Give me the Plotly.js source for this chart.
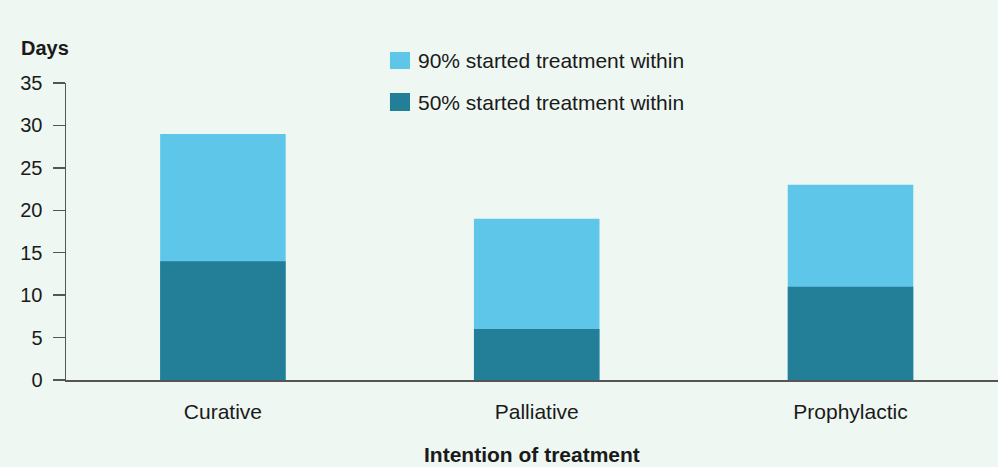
<!DOCTYPE html>
<html>
<head>
<meta charset="utf-8">
<script src="https://cdn.plot.ly/plotly-3.0.1.min.js"></script>
<style>html,body{margin:0;padding:0;background:#EEF7F2;}</style>
</head>
<body>
<div id="chart" style="width:998px;height:467px;"></div>
<script>
const categories = ["Curative", "Palliative", "Prophylactic"];
const within90 = [29, 19, 23];
const within50 = [14, 6, 11];
const seriesNames = ["90% started treatment within", "50% started treatment within"];
const seriesColors = ["#5EC6E8", "#237E98"];
const xTitle = "Intention of treatment";
const yTitle = "Days";

const traces = [
  {type: "bar", x: categories, y: within90, name: seriesNames[0], width: 0.4,
   marker: {color: seriesColors[0]}, hoverinfo: "x+y"},
  {type: "bar", x: categories, y: within50, name: seriesNames[1], width: 0.4,
   marker: {color: seriesColors[1]}, hoverinfo: "x+y"}
];

// legend drawn as paper-positioned swatches + real text
const legendY = [[1.1044, 1.0471, 1.0741], [0.9663, 0.9057, 0.9360]];
const shapes = seriesNames.map((n, i) => ({
  type: "rect", xref: "paper", yref: "paper",
  x0: 0.3476, x1: 0.3691, y0: legendY[i][1], y1: legendY[i][0],
  fillcolor: seriesColors[i], line: {width: 0}
}));
const legendText = seriesNames.map((n, i) => ({
  text: n, xref: "paper", yref: "paper", x: 0.3755, y: legendY[i][2],
  xanchor: "left", yanchor: "middle", showarrow: false, font: {size: 21}
}));

const layout = {
  width: 998, height: 467,
  margin: {l: 66, r: 0, t: 83, b: 87},
  paper_bgcolor: "#EEF7F2", plot_bgcolor: "#EEF7F2",
  font: {family: "Liberation Sans, Arial, sans-serif", size: 20, color: "#1a1a1a"},
  barmode: "overlay",
  showlegend: false,
  xaxis: {
    type: "category", range: [-0.5, 2.47], showline: true, linecolor: "#555", linewidth: 1.5,
    ticks: "", showgrid: false, zeroline: false, ticklabelstandoff: 12,
    tickfont: {size: 21}
  },
  yaxis: {
    range: [0, 35], dtick: 5, showline: true, linecolor: "#555", linewidth: 1.5,
    ticks: "outside", ticklen: 12, tickcolor: "#555", tickwidth: 1.5,
    showgrid: false, zeroline: false, ticklabelstandoff: 6
  },
  shapes: shapes,
  annotations: [
    {text: "<b>" + yTitle + "</b>", xref: "paper", yref: "paper", x: -0.0225, y: 1.1178,
     xanchor: "center", yanchor: "middle", showarrow: false, font: {size: 20}},
    {text: "<b>" + xTitle + "</b>", xref: "paper", yref: "paper", x: 0.5, y: -0.2525,
     xanchor: "center", yanchor: "middle", showarrow: false, font: {size: 21}}
  ].concat(legendText)
};

Plotly.newPlot("chart", traces, layout, {displayModeBar: false, staticPlot: true});
</script>
</body>
</html>
